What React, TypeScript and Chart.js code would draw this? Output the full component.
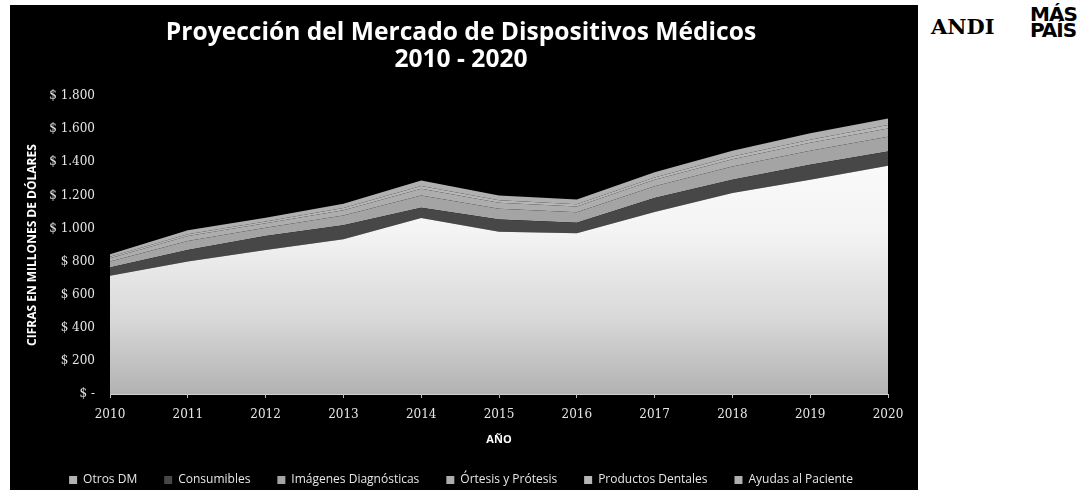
import React, { useEffect, useRef } from 'react';
import { Chart, registerables } from 'chart.js';

Chart.register(...registerables);

const years = ['2010', '2011', '2012', '2013', '2014', '2015', '2016', '2017', '2018', '2019', '2020'];
const otrosDM = [715, 800, 870, 935, 1064, 980, 972, 1100, 1215, 1295, 1380];
const consumibles = [50, 70, 85, 85, 61, 75, 63, 85, 80, 90, 85];
const imagenes = [36, 54, 50, 58, 74, 65, 63, 70, 79, 85, 90];
const ortesis = [20, 30, 27, 33, 41, 36, 35, 39, 44, 48, 50];
const dentales = [8, 12, 11, 13, 17, 15, 14, 15, 17, 19, 20];
const ayudas = [16, 24, 22, 26, 33, 29, 28, 31, 35, 38, 40];
const yTickLabels = ['$ -', '$ 200', '$ 400', '$ 600', '$ 800', '$ 1.000', '$ 1.200', '$ 1.400', '$ 1.600', '$ 1.800'];
const seriesNames = ['Otros DM', 'Consumibles', 'Imágenes Diagnósticas', 'Órtesis y Prótesis', 'Productos Dentales', 'Ayudas al Paciente'];

const bottomFill = (ctx: any) => {
  const chart = ctx.chart;
  const ca = chart.chartArea;
  if (!ca) return '#d6d6d6';
  const g = chart.ctx.createLinearGradient(0, ca.top, 0, ca.bottom);
  g.addColorStop(0, '#ffffff');
  g.addColorStop(0.45, '#f4f4f4');
  g.addColorStop(0.75, '#d8d8d8');
  g.addColorStop(1, '#b2b2b2');
  return g;
};

const fills: any[] = [bottomFill, '#474747', '#a4a4a4', '#adadad', '#b6b6b6', '#b0b0b0'];

export default function App() {
  const ref = useRef<HTMLCanvasElement>(null);
  useEffect(() => {
    if (!ref.current) return;
    const values = [otrosDM, consumibles, imagenes, ortesis, dentales, ayudas];
    const chart = new Chart(ref.current, {
      type: 'line',
      data: {
        labels: years,
        datasets: values.map((v, i) => ({
          label: seriesNames[i],
          data: v,
          fill: i === 0 ? 'origin' : '-1',
          backgroundColor: fills[i],
          borderWidth: 0,
          borderColor: 'rgba(0,0,0,0)',
          pointRadius: 0,
          tension: 0,
        })),
      },
      options: {
        responsive: false,
        animation: false,
        layout: { padding: { left: 0, right: 6, top: 0, bottom: 0 } },
        plugins: {
          tooltip: { enabled: false },
          title: {
            display: true,
            text: ['Proyección del Mercado de Dispositivos Médicos', '2010 - 2020'],
            color: '#ffffff',
            font: { family: 'Open Sans', size: 24.6, weight: 'bold', lineHeight: 1.1 },
            padding: { top: 14, bottom: 23 },
          },
          legend: {
            position: 'bottom',
            labels: {
              color: '#e6e6e6',
              font: { family: 'Open Sans', size: 12 },
              boxWidth: 8,
              boxHeight: 8,
              padding: 27,
            },
          },
        },
        scales: {
          x: {
            type: 'category',
            offset: false,
            grid: { display: true, drawOnChartArea: false, drawTicks: true, tickLength: 4, color: '#bdbdbd' },
            border: { display: true, color: '#cfcfcf' },
            ticks: {
              color: '#e6e6e6',
              font: { family: 'DejaVu Serif', size: 12 },
              padding: 10,
              autoSkip: false,
              maxRotation: 0,
            },
            title: {
              display: true,
              text: 'AÑO',
              color: '#ffffff',
              font: { family: 'Open Sans', size: 11, weight: 'bold' },
              padding: { top: 2, bottom: 0.5 },
            },
            afterFit: (s: any) => { s.height = 53; },
          },
          y: {
            stacked: true,
            min: 0,
            max: 1800,
            grid: { display: false, drawTicks: false },
            border: { display: false },
            ticks: {
              stepSize: 200,
              color: '#e6e6e6',
              font: { family: 'DejaVu Serif', size: 12 },
              padding: 15,
              callback: (_v: any, idx: number) => yTickLabels[idx],
            },
            title: {
              display: true,
              text: 'CIFRAS EN MILLONES DE DÓLARES',
              color: '#ffffff',
              font: { family: 'Open Sans', size: 12, weight: 'bold' },
              padding: { top: 15, bottom: 0 },
            },
            afterFit: (s: any) => { s.width = 100; },
          },
          yRight: {
            type: 'linear',
            position: 'right',
            display: true,
            grid: { display: false, drawTicks: false },
            border: { display: false },
            ticks: { display: false },
            afterFit: (s: any) => { s.width = 24; },
          },
        },
      },
    });
    return () => chart.destroy();
  }, []);

  return (
    <div style={{ position: 'absolute', left: 0, top: 0, width: 1085, height: 497, background: '#fff', overflow: 'hidden' }}>
      <div style={{ position: 'absolute', left: 10, top: 5, width: 908, height: 485, background: '#000' }} />
      <canvas ref={ref} width={908} height={491} style={{ position: 'absolute', left: 10, top: 5 }} />
      <div style={{ position: 'absolute', left: 931, top: 16, fontFamily: 'DejaVu Serif', fontWeight: 'bold', fontSize: 21, letterSpacing: 0, color: '#000', lineHeight: '22px' }}>ANDI</div>
      <div style={{ position: 'absolute', left: 1030, top: 6, fontFamily: 'DejaVu Sans', fontWeight: 'bold', fontSize: 20, letterSpacing: -1, color: '#000', lineHeight: '16px' }}>
        <div>MÁS</div>
        <div>PAÍS</div>
      </div>
    </div>
  );
}
